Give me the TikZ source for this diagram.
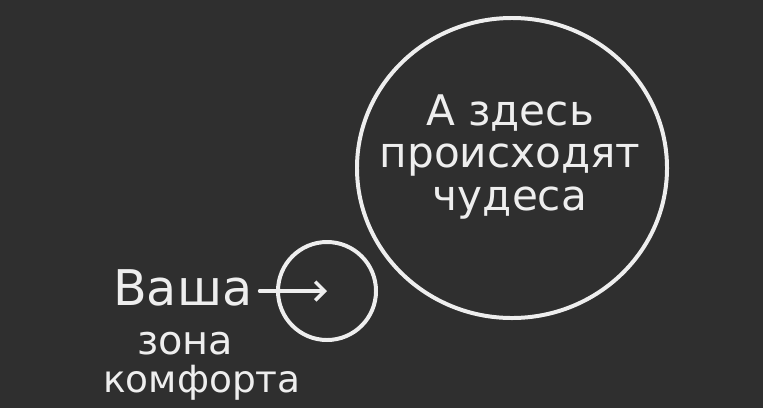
\documentclass[tikz,border=0pt]{standalone}
\usepackage{fontspec}
\setmainfont{DejaVu Sans}
\usetikzlibrary{shapes.geometric,arrows.meta}
\definecolor{board}{HTML}{2F2F2F}
\definecolor{chalk}{HTML}{EEEEEE}
\tikzstyle{chalkline}=[draw=chalk, line width=3.4pt]
\tikzstyle{zone}=[chalkline, ellipse, inner sep=0pt]
\tikzstyle{chalktext}=[text=chalk, inner sep=0pt, font=\fontsize{34}{34}\selectfont]
\tikzstyle{chalkarrow}=[chalkline, line width=3pt, line cap=round, -{Straight Barb[length=8pt,width=16pt]}]

\begin{document}
\begin{tikzpicture}[x=0.03cm,y=-0.03cm]
	\useasboundingbox (0,0) rectangle (763,408);
	\fill[board] (0,0) rectangle (763,408);
	
	\node[zone, minimum width=9.3cm, minimum height=9cm] (wonder) at (512,168) {};
	\node[zone, minimum width=2.94cm, minimum height=2.94cm] (comfort) at (327,291) {};
	
	\node[chalktext, align=center, font=\fontsize{36}{36}\selectfont] (miracle) at (510,157) {А здесь\\происходят\\чудеса};
	
	\node[chalktext, anchor=base west, font=\fontsize{42}{42}\selectfont] (your) at (113,305) {Ваша};
	\node[chalktext, anchor=base west, font=\fontsize{34}{34}\selectfont] (zona) at (137,354) {зона};
	\node[chalktext, anchor=base west, font=\fontsize{32}{32}\selectfont] (komf) at (103,392) {комфорта};
	
	\draw[chalkarrow, shorten <=6pt] (your.east |- comfort.center) -- (comfort.center);
\end{tikzpicture}
\end{document}
